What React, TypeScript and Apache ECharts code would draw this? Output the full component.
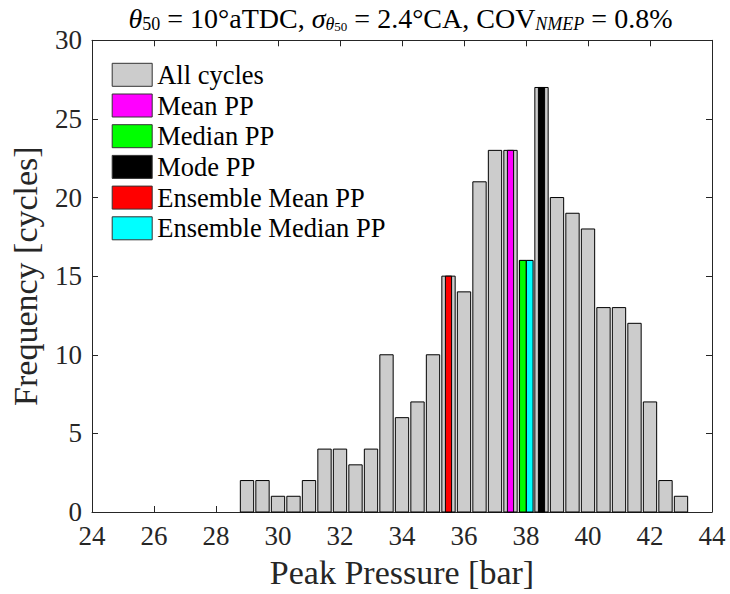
import React, { useEffect, useRef } from "react";
import * as echarts from "echarts";

// Histogram of peak pressure (bin centres, bar) and cycle counts
const binCenters = [29, 29.5, 30, 30.5, 31, 31.5, 32, 32.5, 33, 33.5, 34, 34.5, 35, 35.5, 36, 36.5, 37, 37.5, 38, 38.5, 39, 39.5, 40, 40.5, 41, 41.5, 42, 42.5, 43];
const binCounts = [2, 2, 1, 1, 2, 4, 4, 3, 4, 10, 6, 7, 10, 15, 14, 21, 23, 23, 16, 27, 20, 19, 18, 13, 13, 12, 7, 2, 1];

// Highlighted statistics (position in bar, count of their bin)
const highlightNames = ["Mean PP", "Median PP", "Mode PP", "Ensemble Mean PP", "Ensemble Median PP"];
const highlightCenters = [37.5, 37.9, 38.5, 35.5, 38.12];
const highlightCounts = [23, 16, 27, 15, 16];
const highlightColors = ["#ff00ff", "#00ff00", "#000000", "#ff0000", "#00ffff"];

const allCyclesName = "All cycles";
const allCyclesColor = "#cccccc";

const xMin = 24;
const xMax = 44;
const xInterval = 2;
const yMin = 0;
const yMax = 30;
const yInterval = 5;

const FONT = "Liberation Serif";
const AXIS_COLOR = "#262626";
const GRAY_HALF = 0.215;
const HL_HALF = 0.1;
const HL_HALF_PAIR = 0.108;

function makeRender(half: number, fill: string) {
  return (_params: any, api: any) => {
    const x = api.value(0);
    const y = api.value(1);
    const a = api.coord([x - half, y]);
    const b = api.coord([x + half, 0]);
    return {
      type: "rect",
      shape: { x: a[0], y: a[1], width: b[0] - a[0], height: b[1] - a[1] },
      style: { fill, stroke: "#000000", lineWidth: 1 },
    };
  };
}

export default function App() {
  const ref = useRef<HTMLDivElement>(null);

  useEffect(() => {
    if (!ref.current) return;
    const chart = echarts.init(ref.current, null, { renderer: "svg" });

    const axisCommon = {
      type: "value" as const,
      splitLine: { show: false },
      axisLine: { show: true, onZero: false, lineStyle: { color: AXIS_COLOR, width: 1 } },
      axisTick: { show: true, inside: true, length: 6, lineStyle: { color: AXIS_COLOR } },
    };

    const series: any[] = [
      {
        name: allCyclesName,
        type: "custom",
        renderItem: makeRender(GRAY_HALF, allCyclesColor),
        itemStyle: { color: allCyclesColor },
        encode: { x: 0, y: 1 },
        data: binCenters.map((c, i) => [c, binCounts[i]]),
        z: 2,
      },
    ];
    highlightNames.forEach((name, i) => {
      const paired = name === "Median PP" || name === "Ensemble Median PP";
      series.push({
        name,
        type: "custom",
        renderItem: makeRender(paired ? HL_HALF_PAIR : HL_HALF, highlightColors[i]),
        itemStyle: { color: highlightColors[i] },
        encode: { x: 0, y: 1 },
        data: [[highlightCenters[i], highlightCounts[i]]],
        z: 3,
      });
    });

    const legendNames = [allCyclesName, ...highlightNames];
    const legendColors = [allCyclesColor, ...highlightColors];

    chart.setOption({
      animation: false,
      backgroundColor: "#ffffff",
      textStyle: { fontFamily: FONT },
      title: {
        left: 400.5,
        top: 3,
        padding: 0,
        textAlign: "center",
        text:
          "{i|θ}{s|50}{n| = 10°aTDC, }{i|σ}{si|θ}{ss|50}{n| = 2.4°CA, COV}{si|NMEP}{n| = 0.8%}",
        textStyle: {
          fontFamily: FONT,
          fontWeight: "normal",
          color: "#000000",
          rich: {
            n: { fontFamily: FONT, fontSize: 28, fontWeight: "normal", lineHeight: 30, color: "#000" },
            i: { fontFamily: FONT, fontSize: 28, fontStyle: "italic", fontWeight: "normal", lineHeight: 30, color: "#000" },
            s: { fontFamily: FONT, fontSize: 18, fontWeight: "normal", lineHeight: 12, verticalAlign: "bottom", color: "#000" },
            si: { fontFamily: FONT, fontSize: 18, fontStyle: "italic", fontWeight: "normal", lineHeight: 12, verticalAlign: "bottom", color: "#000" },
            ss: { fontFamily: FONT, fontSize: 13, fontWeight: "normal", lineHeight: 4, verticalAlign: "bottom", color: "#000" },
          },
        },
      },
      legend: {
        orient: "vertical",
        left: 111.7,
        top: 61.3,
        padding: 0,
        itemWidth: 40,
        itemHeight: 23,
        itemGap: 3.7,
        selectedMode: false,
        textStyle: { fontFamily: FONT, fontSize: 26.5, color: "#000" },
        data: legendNames.map((name, i) => ({
          name,
          icon: "rect",
          itemStyle: { color: legendColors[i], borderColor: "#333333", borderWidth: 1 },
        })),
      },
      grid: { left: 89.5, right: 18, top: 40.3, bottom: 79.7, containLabel: false },
      xAxis: [
        {
          ...axisCommon,
          position: "bottom",
          min: xMin,
          max: xMax,
          interval: xInterval,
          axisLabel: { fontFamily: FONT, fontSize: 27, color: AXIS_COLOR, margin: 10 },
          name: "Peak Pressure [bar]",
          nameLocation: "middle",
          nameGap: 43,
          nameTextStyle: { fontFamily: FONT, fontSize: 34, color: AXIS_COLOR },
        },
        {
          ...axisCommon,
          position: "top",
          min: xMin,
          max: xMax,
          interval: xInterval,
          axisLabel: { show: false },
        },
      ],
      yAxis: [
        {
          ...axisCommon,
          position: "left",
          min: yMin,
          max: yMax,
          interval: yInterval,
          axisLabel: { fontFamily: FONT, fontSize: 27, color: AXIS_COLOR, margin: 10 },
          name: "Frequency [cycles]",
          nameLocation: "middle",
          nameRotate: 90,
          nameGap: 50,
          nameTextStyle: { fontFamily: FONT, fontSize: 34, color: AXIS_COLOR },
        },
        {
          ...axisCommon,
          position: "right",
          min: yMin,
          max: yMax,
          interval: yInterval,
          axisLabel: { show: false },
        },
      ],
      series,
    });

    return () => chart.dispose();
  }, []);

  return (
    <div
      ref={ref}
      style={{ position: "fixed", left: 0, top: 0, width: 730, height: 594, background: "#fff" }}
    />
  );
}
